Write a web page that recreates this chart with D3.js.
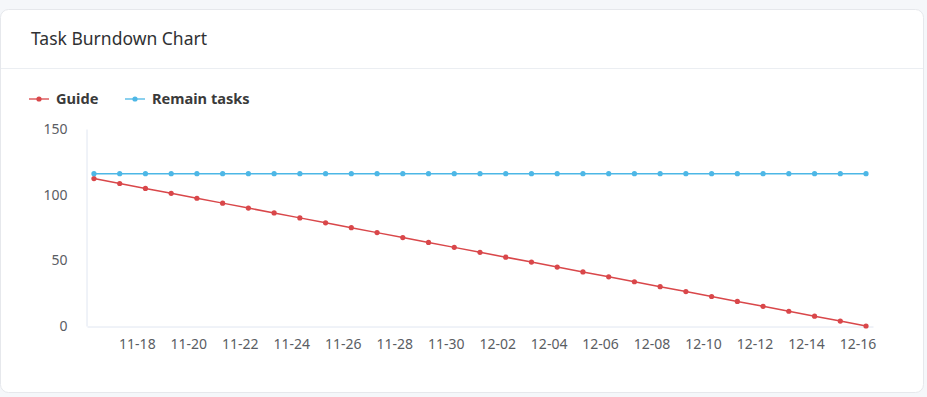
<!DOCTYPE html>
<html>
<head>
<meta charset="utf-8">
<script src="https://cdn.jsdelivr.net/npm/d3@7/dist/d3.min.js"></script>
<style>
  html, body { margin: 0; padding: 0; background: #f5f7fa; }
  body { width: 927px; height: 397px; overflow: hidden; font-family: "Noto Sans", "Open Sans", sans-serif; }
</style>
</head>
<body>
<svg id="chart" width="927" height="397"></svg>
<script>
// ---- data ----
const dates = [
  "2023-11-16","2023-11-17","2023-11-18","2023-11-19","2023-11-20","2023-11-21","2023-11-22","2023-11-23",
  "2023-11-24","2023-11-25","2023-11-26","2023-11-27","2023-11-28","2023-11-29","2023-11-30","2023-12-01",
  "2023-12-02","2023-12-03","2023-12-04","2023-12-05","2023-12-06","2023-12-07","2023-12-08","2023-12-09",
  "2023-12-10","2023-12-11","2023-12-12","2023-12-13","2023-12-14","2023-12-15","2023-12-16"
];
const guide = [
  112.26,108.52,104.77,101.03,97.29,93.55,89.81,86.06,82.32,78.58,74.84,71.10,67.35,63.61,59.87,56.13,
  52.39,48.65,44.90,41.16,37.42,33.68,29.94,26.19,22.45,18.71,14.97,11.23,7.48,3.74,0
];
const remain = [
  116,116,116,116,116,116,116,116,116,116,116,116,116,116,116,116,
  116,116,116,116,116,116,116,116,116,116,116,116,116,116,116
];
const yTicks = [0, 50, 100, 150];
const xTickLabels = ["11-18","11-20","11-22","11-24","11-26","11-28","11-30","12-02","12-04","12-06","12-08","12-10","12-12","12-14","12-16"];
const seriesNames = ["Guide", "Remain tasks"];
const title = "Task Burndown Chart";

// ---- layout ----
const svg = d3.select("#chart");
const red = "#d9474a", blue = "#4db7e6";

// card
svg.append("rect").attr("x", 0.5).attr("y", 9.5).attr("width", 923).attr("height", 383)
  .attr("rx", 8).attr("fill", "#fff").attr("stroke", "#e6e8ec");
svg.append("text").attr("x", 31).attr("y", 45).text(title)
  .attr("font-size", 17.5).attr("fill", "#303133");
svg.append("line").attr("x1", 1).attr("x2", 923).attr("y1", 68.5).attr("y2", 68.5)
  .attr("stroke", "#ebeef2");

// points at 08:00 each day
const pts = dates.map(d => new Date(d + "T08:00:00"));
const dMin = new Date(dates[0] + "T01:30:00");
const dMax = new Date(dates[dates.length - 1] + "T14:30:00");
const x = d3.scaleTime().domain([dMin, dMax]).range([87, 873]);
const y = d3.scaleLinear().domain([0, 150]).range([326, 129]);

const g = svg.append("g");

// x ticks at midnight of labelled days
const xAxisTicks = xTickLabels.map(s => new Date("2023-" + s + "T00:00:00"));

// x axis
const xAxis = d3.axisBottom(x).tickValues(xAxisTicks).tickFormat((d, i) => xTickLabels[i]).tickSize(0).tickPadding(13);
const xg = g.append("g").attr("transform", "translate(0,326.5)").call(xAxis);
xg.select(".domain").attr("stroke", "#e0e6f1");
xg.selectAll("text").attr("font-size", 14).attr("fill", "#5a5d63").attr("font-family", "Noto Sans");

// y axis
const yAxis = d3.axisLeft(y).tickValues(yTicks).tickSize(0).tickPadding(19);
const yg = g.append("g").attr("transform", "translate(86.5,0)").call(yAxis);
yg.select(".domain").attr("stroke", "#e0e6f1");
yg.selectAll("text").attr("font-size", 14).attr("fill", "#5a5d63").attr("font-family", "Noto Sans");

// lines
const line = d3.line().x((d, i) => x(pts[i])).y(d => y(d));
const series = [{ name: seriesNames[0], vals: guide, color: red }, { name: seriesNames[1], vals: remain, color: blue }];
series.forEach(s => {
  g.append("path").datum(s.vals).attr("d", line).attr("fill", "none")
    .attr("stroke", s.color).attr("stroke-width", 1.5);
  g.selectAll(null).data(s.vals).join("circle")
    .attr("cx", (d, i) => x(pts[i])).attr("cy", d => y(d)).attr("r", 2.6).attr("fill", s.color);
});

// legend
const legendX = [29, 125];
series.forEach((s, i) => {
  const lg = svg.append("g").attr("transform", `translate(${legendX[i]},99)`);
  lg.append("line").attr("x1", 0).attr("x2", 20).attr("y1", 0).attr("y2", 0)
    .attr("stroke", s.color).attr("stroke-width", 2).attr("opacity", 0.65);
  lg.append("circle").attr("cx", 10).attr("cy", 0).attr("r", 2.6).attr("fill", s.color);
  lg.append("text").attr("x", 27).attr("y", 5).text(s.name)
    .attr("font-size", 14.6).attr("font-weight", "bold").attr("fill", "#3a3a3a");
});
</script>
</body>
</html>
